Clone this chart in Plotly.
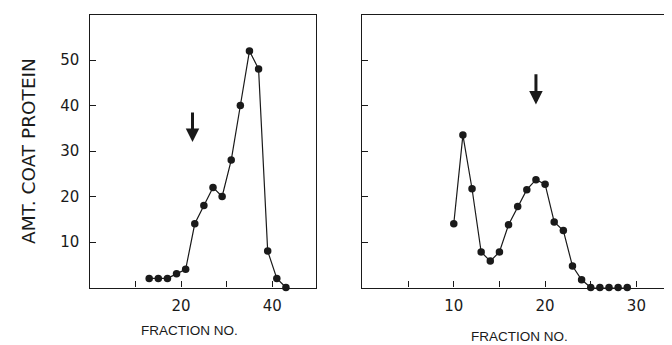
import plotly.graph_objects as go

# ---- data ----
left_fraction = [13, 15, 17, 19, 21, 23, 25, 27, 29, 31, 33, 35, 37, 39, 41, 43]
left_protein = [2, 2, 2, 3, 4, 14, 18, 22, 20, 28, 40, 52, 48, 8, 2, 0]

right_fraction = list(range(10, 30))
right_protein = [14, 33.5, 21.7, 7.8, 5.8, 7.8, 13.8, 17.8, 21.5, 23.7, 22.7, 14.4,
                 12.5, 4.7, 1.7, 0, 0, 0, 0, 0]

left_arrow_x = 22.5
right_arrow_x = 19

y_tickvals = [10, 20, 30, 40, 50]
y_ticktext = ["10", "20", "30", "40", "50"]
left_x_tickvals = [10, 20, 30, 40]
left_x_ticktext = ["", "20", "", "40"]
right_x_tickvals = [5, 10, 15, 20, 25, 30]
right_x_ticktext = ["", "10", "", "20", "", "30"]

y_title = "AMT. COAT PROTEIN"
x_title = "FRACTION NO."

# page body has an 8px margin, so the figure is drawn offset by (8, 8)
OFF = 8
W, H = 672 - OFF, 345 - OFF
INK = "#1a1a1a"
TICKFONT = dict(family="DejaVu Sans", size=15, color=INK)


def px(x):
    return (x - OFF) / W


def py(y):
    return (H - (y - OFF)) / H


fig = go.Figure()
marker = dict(color=INK, size=7.5)
line = dict(color=INK, width=1.2)
fig.add_trace(go.Scatter(x=left_fraction, y=left_protein, mode="lines+markers",
                         marker=marker, line=line, cliponaxis=False,
                         xaxis="x", yaxis="y", showlegend=False))
fig.add_trace(go.Scatter(x=right_fraction, y=right_protein, mode="lines+markers",
                         marker=marker, line=line, cliponaxis=False,
                         xaxis="x2", yaxis="y2", showlegend=False))

ydom = [py(287.5), py(14.5)]
axis_common = dict(showgrid=False, zeroline=False, showline=True, linecolor=INK,
                   linewidth=1.4, ticks="inside", ticklen=6, tickwidth=1.3,
                   tickcolor=INK, tickfont=TICKFONT)

fig.update_layout(
    width=W, height=H,
    margin=dict(l=0, r=0, t=0, b=0),
    paper_bgcolor="white", plot_bgcolor="white",
    xaxis=dict(domain=[px(89.5), px(316)], range=[-0.1, 49.6],
               tickvals=left_x_tickvals, ticktext=left_x_ticktext,
               mirror=True, anchor="y", ticklabelstandoff=4, **axis_common),
    yaxis=dict(domain=ydom, range=[0, 60], tickvals=y_tickvals, ticktext=y_ticktext,
               mirror=True, anchor="x", ticklabelstandoff=6, **axis_common),
    xaxis2=dict(domain=[px(362), 1.0], range=[-0.05, 33.9],
                tickvals=right_x_tickvals, ticktext=right_x_ticktext,
                mirror=True, anchor="y2", ticklabelstandoff=4, **axis_common),
    yaxis2=dict(domain=ydom, range=[0, 60], tickvals=y_tickvals,
                showticklabels=False, mirror=False, anchor="x2", **axis_common),
)

# arrows
fig.add_annotation(x=left_arrow_x, y=32, ax=left_arrow_x, ay=38.8,
                   xref="x", yref="y", axref="x", ayref="y", text="",
                   showarrow=True, arrowhead=2, arrowsize=0.9, arrowwidth=3,
                   arrowcolor=INK)
fig.add_annotation(x=right_arrow_x, y=40.2, ax=right_arrow_x, ay=47.2,
                   xref="x2", yref="y2", axref="x2", ayref="y2", text="",
                   showarrow=True, arrowhead=2, arrowsize=0.9, arrowwidth=3,
                   arrowcolor=INK)

# titles
fig.add_annotation(x=px(28), y=py(151), xref="paper", yref="paper",
                   xanchor="center", yanchor="middle",
                   text=y_title, textangle=-90, showarrow=False,
                   font=dict(family="DejaVu Sans", size=18.5, color=INK))
fig.add_annotation(x=px(189), y=py(330), xref="paper", yref="paper",
                   xanchor="center", yanchor="middle",
                   text=x_title, showarrow=False,
                   font=dict(family="Liberation Sans", size=13.5, color=INK))
fig.add_annotation(x=px(519), y=py(336), xref="paper", yref="paper",
                   xanchor="center", yanchor="middle",
                   text=x_title, showarrow=False,
                   font=dict(family="Liberation Sans", size=13.5, color=INK))

fig.write_html("out.html")
